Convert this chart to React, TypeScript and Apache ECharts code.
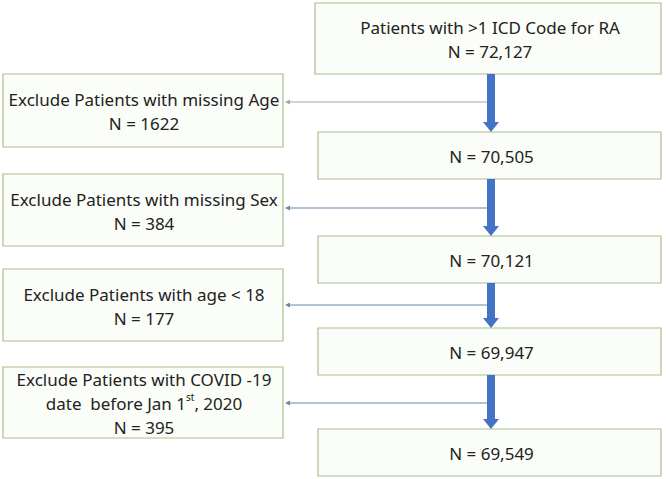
import React, { useEffect, useRef } from "react";
import * as echarts from "echarts";

// ---- data ----
const mainTitles = ["Patients with >1 ICD Code for RA", "", "", "", ""];
const mainCounts = [72127, 70505, 70121, 69947, 69549];
const excludeTitles = [
  "Exclude Patients with missing Age",
  "Exclude Patients with missing Sex",
  "Exclude Patients with age < 18",
  "Exclude Patients with COVID -19\ndate  before Jan 1{sup|st}, 2020",
];
const excludeCounts = [1622, 384, 177, 395];

// ---- layout ----
const mainBoxes = [
  { x: 315, y: 3, w: 346, h: 71 },
  { x: 318, y: 132, w: 343, h: 47 },
  { x: 318, y: 236, w: 343, h: 47 },
  { x: 318, y: 328, w: 343, h: 47 },
  { x: 318, y: 429, w: 343, h: 47 },
];
const exBoxes = [
  { x: 3, y: 74, w: 280, h: 73 },
  { x: 3, y: 174, w: 280, h: 72 },
  { x: 3, y: 269, w: 280, h: 72 },
  { x: 3, y: 367, w: 280, h: 71 },
];
const branchY = [102, 208, 305, 403];
const branchColors = ["#a3a7ad", "#6d86ab", "#6d86ab", "#6d86ab"];
const ARROW_X = 491;
const FONT = "Noto Sans";
const FS = 17;
const LH = 24;

export default function App() {
  const ref = useRef<HTMLDivElement>(null);
  useEffect(() => {
    if (!ref.current) return;
    const chart = echarts.init(ref.current, undefined, { renderer: "svg" });
    const els: any[] = [];
    const boxStyle = { fill: "#fbfdf8", stroke: "#a9c08e", lineWidth: 1.2 };
    const textStyle = (x: number, y: number, t: string) => ({
      type: "text",
      x,
      y,
      style: {
        text: t,
        fill: "#222",
        fontFamily: FONT,
        fontSize: FS,
        align: "center",
        verticalAlign: "middle",
        lineHeight: LH,
        rich: {
          sup: { fontSize: 10, fontFamily: FONT, fill: "#222", verticalAlign: "top", lineHeight: LH, padding: [0, 0, 8, 0] },
        },
      },
      z: 10,
    });

    mainBoxes.forEach((b, i) => {
      els.push({ type: "rect", shape: { x: b.x, y: b.y, width: b.w, height: b.h }, style: boxStyle, z: 5 });
      const label = (mainTitles[i] ? mainTitles[i] + "\n" : "") + "N = " + mainCounts[i].toLocaleString("en-US");
      els.push(textStyle(b.x + b.w / 2 + 2, b.y + b.h / 2 + 1, label));
    });
    exBoxes.forEach((b, i) => {
      const label = excludeTitles[i] + "\nN = " + String(excludeCounts[i]);
      els.push({ type: "rect", shape: { x: b.x, y: b.y, width: b.w, height: b.h }, style: boxStyle, z: 5 });
      els.push(textStyle(b.x + b.w / 2 + 1, b.y + b.h / 2 + 1, label));
    });
    // vertical arrows
    for (let i = 0; i < mainBoxes.length - 1; i++) {
      const y0 = mainBoxes[i].y + mainBoxes[i].h;
      const y1 = mainBoxes[i + 1].y;
      els.push({ type: "rect", shape: { x: ARROW_X - 4, y: y0, width: 8, height: y1 - y0 - 9 }, style: { fill: "#4472c4" }, z: 6 });
      els.push({
        type: "polygon",
        shape: { points: [[ARROW_X - 8, y1 - 10], [ARROW_X + 8, y1 - 10], [ARROW_X, y1]] },
        style: { fill: "#4472c4" },
        z: 6,
      });
    }
    // branch arrows
    branchY.forEach((y, i) => {
      const xEnd = exBoxes[i].x + exBoxes[i].w + 2;
      els.push({ type: "line", shape: { x1: ARROW_X - 4, y1: y, x2: xEnd + 4, y2: y }, style: { stroke: branchColors[i], lineWidth: 1.2 }, z: 4 });
      els.push({
        type: "polygon",
        shape: { points: [[xEnd, y], [xEnd + 5, y - 2.5], [xEnd + 5, y + 2.5]] },
        style: { fill: branchColors[i] },
        z: 4,
      });
    });

    chart.setOption({
      animation: false,
      backgroundColor: "#ffffff",
      graphic: { elements: els },
    });
    return () => chart.dispose();
  }, []);
  return <div ref={ref} style={{ position: "fixed", left: 0, top: 0, width: 666, height: 479 }} />;
}
